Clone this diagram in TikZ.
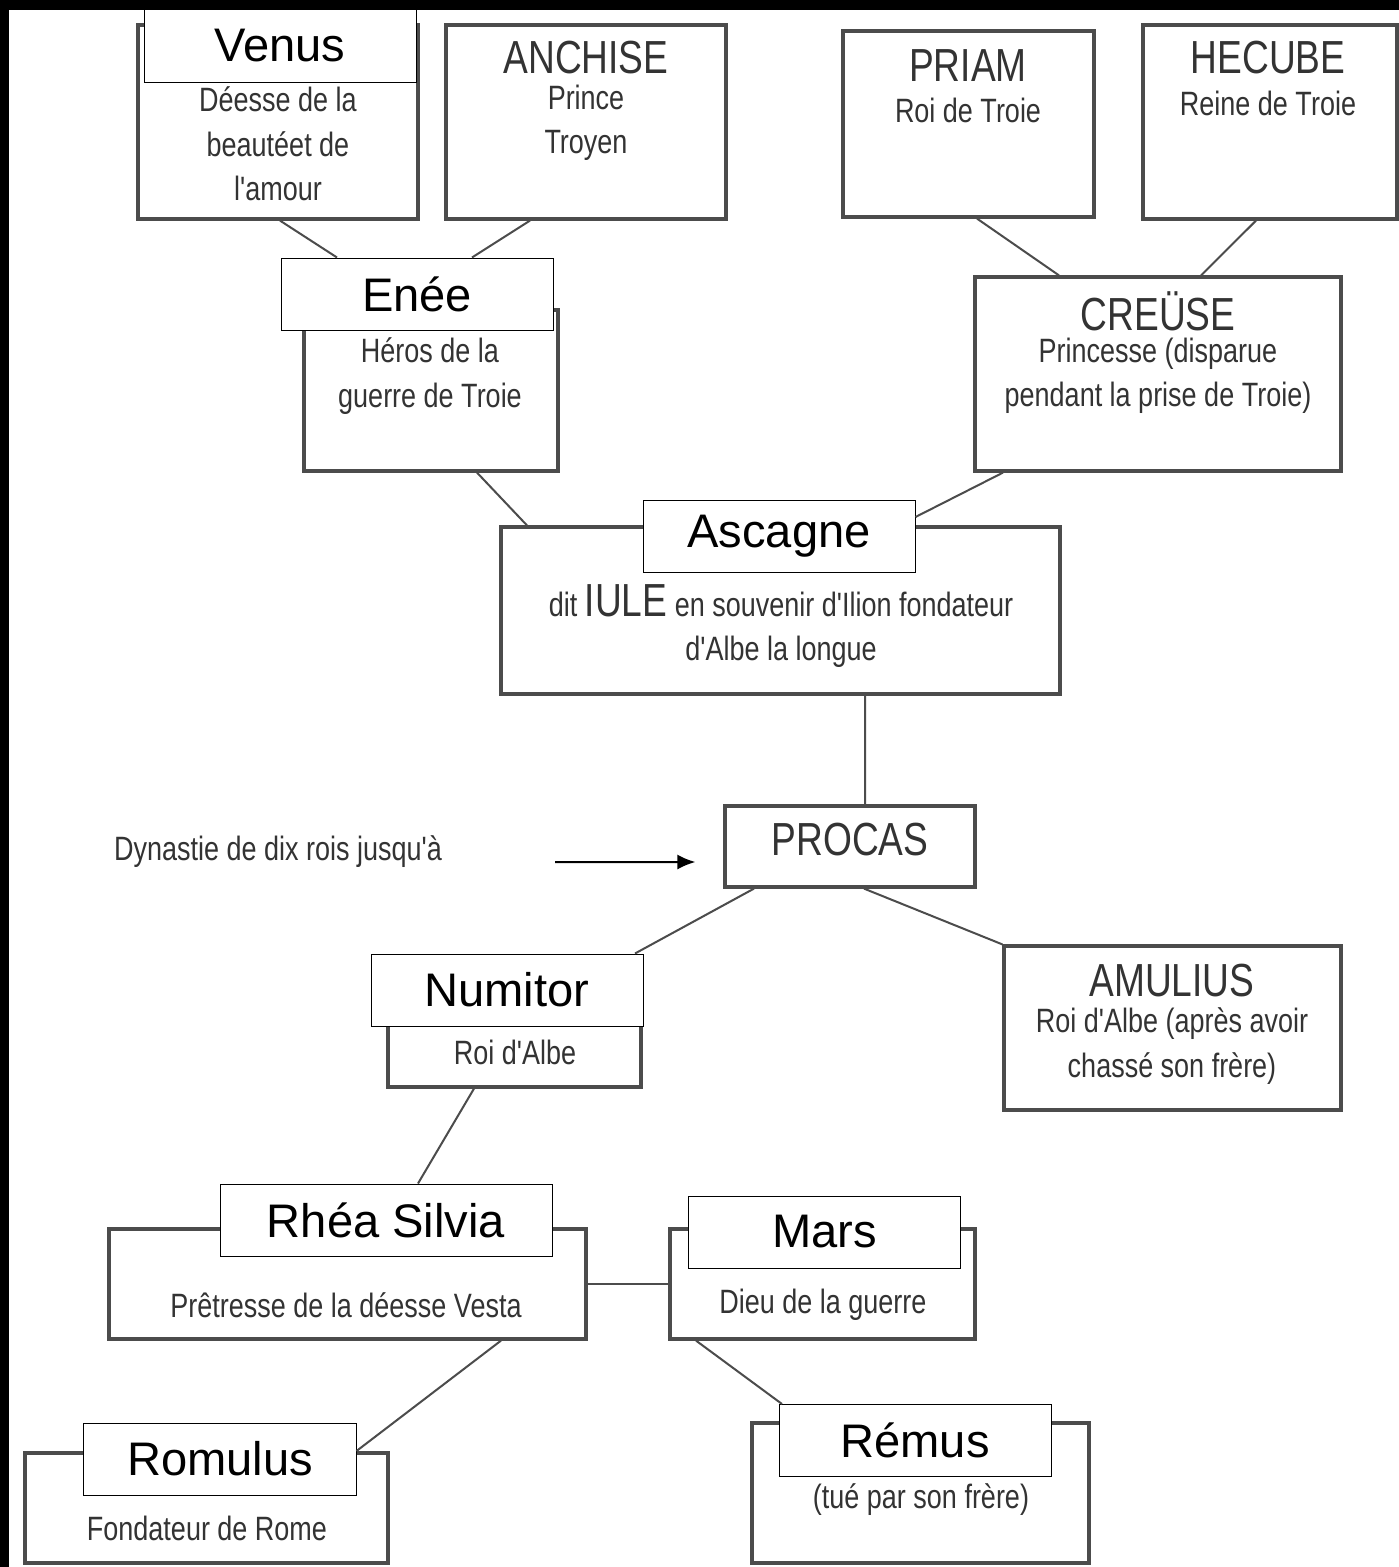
\documentclass[tikz,border=0pt]{standalone}
\usepackage{fontspec}
\setmainfont{Liberation Sans}
\newfontfamily\handfont[FakeStretch=0.8]{Liberation Sans}
\usetikzlibrary{arrows.meta}

\begin{document}
\begin{tikzpicture}[x=0.5mm, y=-0.5mm, >={Latex[length=9mm,width=7.5mm]},
    personbox/.style={rectangle, draw=black!70, line width=1.6mm, inner sep=0pt},
    namebox/.style={rectangle, draw=black, fill=white, line width=0.5mm, minimum width=136mm, minimum height=36mm, inner sep=0pt, font=\fontsize{67}{80}\selectfont},
    desctext/.style={align=center, text=black!80, inner sep=0pt, font=\handfont\fontsize{48}{63}\selectfont},
    titletext/.style={text=black!80, inner sep=0pt, font=\handfont\fontsize{66}{70}\selectfont},
    linkline/.style={draw=black!70, line width=1mm}]
    % background
    \fill[black] (0,0) rectangle (1399,1567);
    \fill[white] (9,10) rectangle (1399,1567);
    \useasboundingbox (0,0) rectangle (1399,1567);

    % frames
    \node [personbox, minimum width=140mm, minimum height=97mm] (venus) at (278,122) {};
    \node [personbox, minimum width=140mm, minimum height=97mm] (anchise) at (586,122) {};
    \node [personbox, minimum width=125.5mm, minimum height=93mm] (priam) at (968.5,124) {};
    \node [personbox, minimum width=127mm, minimum height=97mm] (hecube) at (1270,122) {};
    \node [personbox, minimum width=127mm, minimum height=80.5mm] (enee) at (431,390.5) {};
    \node [personbox, minimum width=183mm, minimum height=97mm] (creuse) at (1158,374) {};
    \node [personbox, minimum width=279.5mm, minimum height=83.5mm] (ascagne) at (780.5,610.5) {};
    \node [personbox, minimum width=125mm, minimum height=40.5mm] (procas) at (850,846.5) {};
    \node [personbox, minimum width=126.5mm, minimum height=43.5mm] (numitor) at (514.5,1043.5) {};
    \node [personbox, minimum width=168.5mm, minimum height=82mm] (amulius) at (1172.5,1028) {};
    \node [personbox, minimum width=238.5mm, minimum height=55mm] (rhea) at (347.5,1284) {};
    \node [personbox, minimum width=152.5mm, minimum height=55mm] (mars) at (822.5,1284) {};
    \node [personbox, minimum width=181.5mm, minimum height=55mm] (romulus) at (206.5,1508) {};
    \node [personbox, minimum width=168.5mm, minimum height=70mm] (remus) at (920.5,1493) {};

    % names
    \node [namebox] (venusname) at (280,46) {Venus};
    \node [namebox] (enename) at (417,294) {Enée};
    \node [namebox] (ascagnename) at (779,536) {Ascagne};
    \node [namebox] (numitorname) at (507,990) {Numitor};
    \node [namebox, minimum width=166mm] (rheaname) at (386,1220) {Rhéa Silvia};
    \node [namebox] (marsname) at (824.5,1232) {Mars};
    \node [namebox] (romulusname) at (220,1459) {Romulus};
    \node [namebox] (remusname) at (915,1440.5) {Rémus};

    % texts
    \node [desctext] (venusdesc) at (278,144) {Déesse de la\\beautéet de\\l'amour};
    \node [titletext] (anchisetitle) at (586,58) {ANCHISE};
    \node [desctext] (anchisedesc) at (586,123) {Prince\\Troyen};
    \node [titletext] (priamtitle) at (968,66) {PRIAM};
    \node [desctext] (priamdesc) at (968,110) {Roi de Troie};
    \node [titletext] (hecubetitle) at (1268,58) {HECUBE};
    \node [desctext] (hecubedesc) at (1268,103) {Reine de Troie};
    \node [desctext] (eneedesc) at (430,376) {Héros de la\\guerre de Troie};
    \node [titletext] (creusetitle) at (1158,311) {CREÜSE};
    \node [desctext] (creusedesc) at (1158,376) {Princesse (disparue\\pendant la prise de Troie)};
    \node [desctext] (ascagnedesc) at (781,626) {dit {\fontsize{66}{63}\selectfont IULE} en souvenir d'Ilion fondateur\\d'Albe la longue};
    \node [titletext] (procastitle) at (850,840) {PROCAS};
    \node [desctext] (dynastie) at (278,852) {Dynastie de dix rois jusqu'à};
    \node [desctext] (numitordesc) at (515,1052) {Roi d'Albe};
    \node [titletext] (amuliustitle) at (1172,981) {AMULIUS};
    \node [desctext] (amuliusdesc) at (1172,1046) {Roi d'Albe (après avoir\\chassé son frère)};
    \node [desctext] (rheadesc) at (346,1305) {Prêtresse de la déesse Vesta};
    \node [desctext] (marsdesc) at (823,1305) {Dieu de la guerre};
    \node [desctext] (romulusdesc) at (207,1528) {Fondateur de Rome};
    \node [desctext] (remusdesc) at (921,1500) {(tué par son frère)};

    % links
    \draw[linkline] ([xshift=1mm]venus.south) -- ([xshift=-40mm]enename.north);
    \draw[linkline] ([xshift=-28mm]anchise.south) -- ([xshift=27.5mm]enename.north);
    \draw[linkline] ([xshift=4.25mm]priam.south) -- ([xshift=-49.5mm]creuse.north);
    \draw[linkline] ([xshift=-7mm]hecube.south) -- ([xshift=21.5mm]creuse.north);
    \draw[linkline] ([xshift=23mm]enee.south) -- ([xshift=-126.75mm]ascagne.north);
    \draw[linkline] ([xshift=-77.5mm]creuse.south) -- ([yshift=9.5mm]ascagnename.east);
    \draw[linkline] ([xshift=42.25mm]ascagne.south) -- ([xshift=7.5mm]procas.north);
    \draw[linkline] ([xshift=-48mm]procas.south) -- ([xshift=64mm]numitorname.north);
    \draw[linkline] ([xshift=7mm]procas.south) -- (amulius.north west);
    \draw[linkline] ([xshift=-20.25mm]numitor.south) -- ([xshift=16mm]rheaname.north);
    \draw[linkline] (rhea.east) -- (mars.west);
    \draw[linkline] ([xshift=76.75mm]rhea.south) -- ([yshift=4mm]romulusname.east);
    \draw[linkline] ([xshift=-63.25mm]mars.south) -- ([xshift=-66.5mm]remusname.north);

    % dynasty arrow
    \coordinate (arrowstart) at (555,862);
    \draw[->, line width=1mm] (arrowstart) -- ([xshift=-14mm, yshift=-7.75mm]procas.west);
\end{tikzpicture}
\end{document}
